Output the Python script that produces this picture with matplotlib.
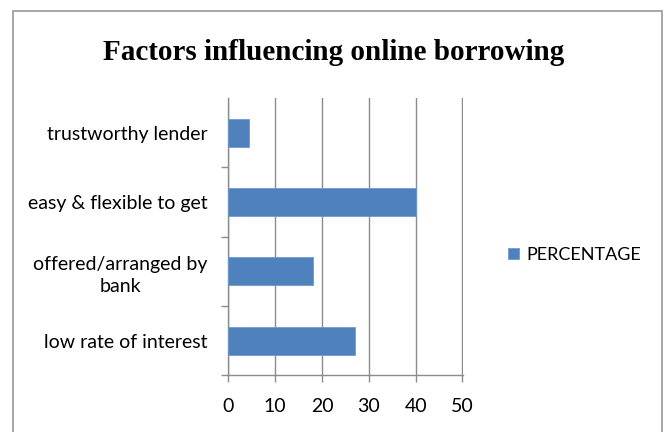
import matplotlib.pyplot as plt
import matplotlib.patches as patches
import numpy as np

#------------------------------------------------------------------------------

factors = ['low rate of interest',
           'offered/arranged by\nbank',
           'easy & flexible to get',
           'trustworthy lender']
percentage = [27, 18, 40, 4.5]

title = 'Factors influencing online borrowing'
series_name = 'PERCENTAGE'
x_ticks = [0, 10, 20, 30, 40, 50]

#------------------------------------------------------------------------------

bar_color = '#4F81BD'
grid_color = '#8C8C8C'
label_font = ['Lato', 'DejaVu Sans']

fig = plt.figure(figsize=(6.67, 4.32), dpi=100)
ax = fig.add_axes([0.3423, 0.1312, 0.6937 - 0.3423, 0.7731 - 0.1312])

# Outer chart frame (runs off the bottom edge)
frame = patches.Rectangle((13 / 667, -0.05), (662 - 13) / 667, 1.05 - 11 / 432,
                          transform=fig.transFigure, fill=False,
                          edgecolor='#A0A0A0', linewidth=1.3)
fig.patches.append(frame)

pos = np.arange(len(factors))
ax.barh(pos, percentage, height=0.4, color=bar_color,
        edgecolor='#6E9AD0', linewidth=0.6, label=series_name, zorder=3)

ax.set_xlim(0, 50.05)
ax.set_ylim(-0.5, len(factors) - 0.5)
ax.set_xticks(x_ticks)
ax.set_xticklabels([str(t) for t in x_ticks], family=label_font, fontsize=14)
ax.xaxis.grid(True, color=grid_color, linewidth=1.0, zorder=0)

ax.set_yticks(pos)
ax.set_yticklabels(factors, family=label_font, fontsize=14,
                   multialignment='center', linespacing=1.4)
ax.set_yticks(np.arange(-0.5, len(factors) - 0.5, 1.0), minor=True)
ax.tick_params(axis='y', which='major', length=0, pad=15)
ax.tick_params(axis='y', which='minor', length=5, color=grid_color, width=1.0)
ax.tick_params(axis='x', length=5, color=grid_color, width=1.0, pad=11)

for side in ['top', 'right']:
    ax.spines[side].set_visible(False)
for side in ['left', 'bottom']:
    ax.spines[side].set_color(grid_color)
    ax.spines[side].set_linewidth(1.0)

fig.text(0.5, 1 - 52 / 432, title, ha='center', va='center',
         family=['Liberation Serif', 'DejaVu Serif'], fontweight='bold',
         fontsize=21)

fig.legend(loc='center left', bbox_to_anchor=(0.738, 1 - 255 / 432),
           frameon=False, handlelength=0.6, handleheight=0.6,
           handletextpad=0.4, prop={'family': label_font, 'size': 13})

plt.savefig('out.png', dpi=100)
